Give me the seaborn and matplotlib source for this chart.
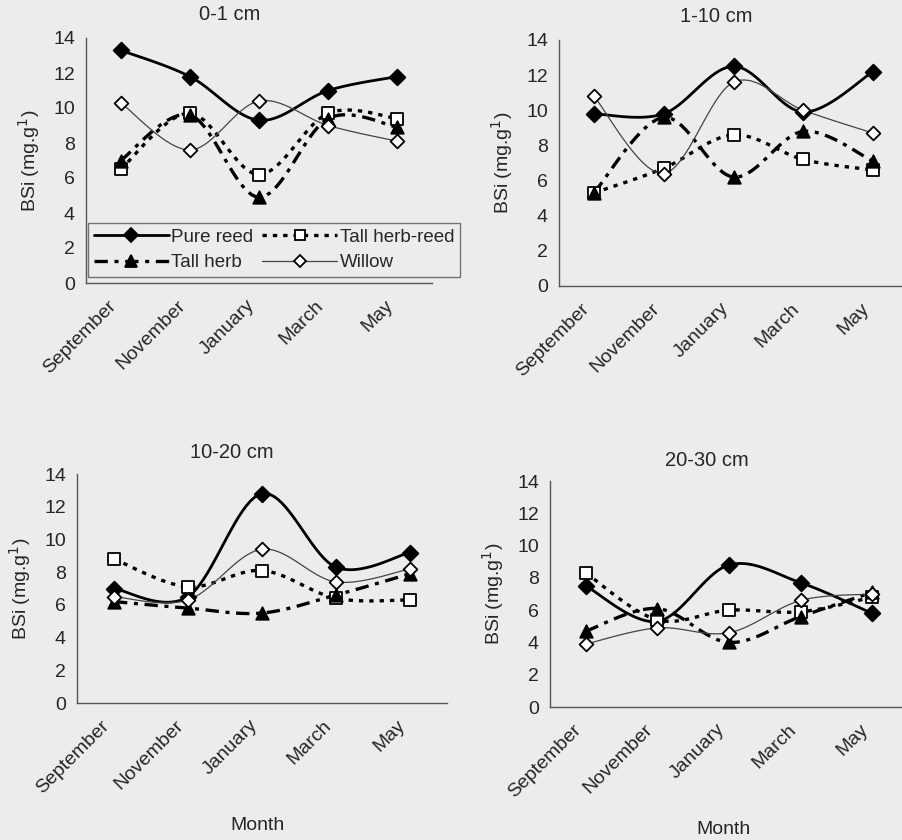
import matplotlib
matplotlib.use('Agg')
import matplotlib.pyplot as plt
import matplotlib.transforms as mtransforms
import seaborn as sns
import numpy as np
import pandas as pd

# Data (BSi, mg.g-1)
months = ['September', 'November', 'January', 'March', 'May']
depths = ['0-1 cm', '1-10 cm', '10-20 cm', '20-30 cm']
series = ['Pure reed', 'Tall herb-reed', 'Tall herb', 'Willow']

pure_reed = [[13.3, 11.8, 9.3, 11.0, 11.8],
             [9.8, 9.8, 12.5, 9.9, 12.2],
             [7.0, 6.5, 12.8, 8.3, 9.2],
             [7.5, 5.3, 8.8, 7.7, 5.8]]
tall_herb_reed = [[6.5, 9.7, 6.2, 9.7, 9.4],
                  [5.3, 6.7, 8.6, 7.2, 6.6],
                  [8.8, 7.1, 8.1, 6.4, 6.3],
                  [8.3, 5.4, 6.0, 5.9, 6.8]]
tall_herb = [[7.0, 9.6, 4.9, 9.4, 8.9],
             [5.3, 9.6, 6.2, 8.8, 7.1],
             [6.2, 5.8, 5.5, 6.6, 7.9],
             [4.7, 6.1, 4.0, 5.6, 7.1]]
willow = [[10.3, 7.6, 10.4, 9.0, 8.1],
          [10.8, 6.4, 11.6, 10.0, 8.7],
          [6.5, 6.3, 9.4, 7.4, 8.2],
          [3.9, 4.9, 4.6, 6.6, 7.0]]

values = {'Pure reed': pure_reed, 'Tall herb-reed': tall_herb_reed,
          'Tall herb': tall_herb, 'Willow': willow}

styles = {
    'Pure reed': dict(color='black', lw=2.0, ls='-', marker='D', mfc='black', ms=8),
    'Tall herb-reed': dict(color='black', lw=2.4, ls=(0, (1.3, 1.8)), marker='s', mfc='white', ms=8),
    'Tall herb': dict(color='black', lw=2.4, ls=(0, (4, 2, 1.2, 2)), marker='^', mfc='black', ms=9),
    'Willow': dict(color='#444444', lw=0.9, ls='-', marker='D', mfc='white', ms=7),
}


def smooth(x, y, n=20):
    # Excel-like smoothed line (Catmull-Rom as cubic bezier)
    x = np.asarray(x, float)
    y = np.asarray(y, float)
    px = np.concatenate([[x[0]], x, [x[-1]]])
    py = np.concatenate([[y[0]], y, [y[-1]]])
    t = np.linspace(0, 1, n)
    xs, ys = [], []
    for i in range(1, len(px) - 2):
        p0 = np.array([px[i], py[i]])
        p3 = np.array([px[i + 1], py[i + 1]])
        p1 = p0 + (np.array([px[i + 1], py[i + 1]]) - np.array([px[i - 1], py[i - 1]])) / 6
        p2 = p3 - (np.array([px[i + 2], py[i + 2]]) - np.array([px[i], py[i]])) / 6
        b = ((1 - t) ** 3)[:, None] * p0 + (3 * (1 - t) ** 2 * t)[:, None] * p1 \
            + (3 * (1 - t) * t ** 2)[:, None] * p2 + (t ** 3)[:, None] * p3
        xs.append(b[:, 0])
        ys.append(b[:, 1])
    return np.concatenate(xs), np.concatenate(ys)


sns.set_style('white')
plt.rcParams['font.family'] = ['Liberation Sans', 'DejaVu Sans']
bg = '#ececec'

W, H = 902, 840
fig = plt.figure(figsize=(W / 100, H / 100), dpi=100, facecolor=bg)

# axes boxes in pixels: left, right, top(14), bottom(0)
boxes = [(86, 432, 38, 283), (559, 908, 40, 286), (77, 447, 474, 703), (550, 908, 481, 707)]
titles_xy = [(230, 15), (716, 17), (232, 453), (707, 460)]

x = np.arange(len(months))
shift = mtransforms.ScaledTranslation(-13 / 100, -14 / 100, fig.dpi_scale_trans)
for k, (l, r, t, b) in enumerate(boxes):
    ax = fig.add_axes([l / W, 1 - b / H, (r - l) / W, (b - t) / H])
    ax.set_facecolor(bg)
    for name in series:
        st = values[name][k]
        s = styles[name]
        sx, sy = smooth(x, st)
        sns.lineplot(x=sx, y=sy, ax=ax, color=s['color'], lw=s['lw'], linestyle=s['ls'],
                     sort=False, estimator=None, legend=False)
        sns.scatterplot(x=x, y=st, ax=ax, marker=s['marker'], s=s['ms'] ** 2, color=s['mfc'],
                        edgecolor='black', linewidth=1.3, zorder=3, legend=False)
    ax.set_xlim(-0.5, len(months) - 0.5)
    ax.set_ylim(0, 14)
    ax.set_yticks(range(0, 15, 2))
    ax.set_xticks(np.arange(-0.5, len(months), 1))
    ax.set_xticklabels([])
    # month labels centred on categories, rotated like the original
    trans = mtransforms.blended_transform_factory(ax.transData, ax.transAxes) + shift
    for i, m in zip(x, months):
        ax.text(i, 0, m, transform=trans, rotation=45, ha='right', va='top',
                rotation_mode='anchor', fontsize=14, clip_on=False)
    ax.tick_params(axis='x', which='major', direction='in', length=5, color='#555555', width=1)
    ax.tick_params(axis='y', direction='out', length=5, color='#555555', width=1, labelsize=14, pad=3)
    for sp in ['top', 'right']:
        ax.spines[sp].set_visible(False)
    for sp in ['left', 'bottom']:
        ax.spines[sp].set_color('#555555')
        ax.spines[sp].set_linewidth(1)
    ax.set_ylabel('BSi (mg.g$^{1}$)', fontsize=14, labelpad=8)
    tx, ty = titles_xy[k]
    fig.text(tx / W, 1 - ty / H, depths[k], ha='center', va='center', fontsize=14.5)
    if k == 0:
        handles = []
        order = ['Pure reed', 'Tall herb', 'Tall herb-reed', 'Willow']
        for name in order:
            s = styles[name]
            h, = ax.plot([], [], color=s['color'], lw=s['lw'], ls=s['ls'], marker=s['marker'],
                         mfc=s['mfc'], mec='black', ms=s['ms'] * 0.9, mew=1.3)
            handles.append(h)
        leg = ax.legend(handles, order, ncol=2, loc='lower left',
                        bbox_to_anchor=((88 - l) / (r - l), (b - 277) / (b - t), (460 - 88) / (r - l), (277 - 220) / (b - t)),
                        mode='expand', fontsize=13.5, handlelength=4.0, frameon=True, fancybox=False,
                        borderaxespad=0, columnspacing=1.6, handletextpad=0.15, borderpad=0.3,
                        labelspacing=0.45)
        leg.get_frame().set_edgecolor('#555555')
        leg.get_frame().set_facecolor(bg)
        leg.get_frame().set_linewidth(1)

fig.text(258 / W, 1 - 826 / H, 'Month', ha='center', va='center', fontsize=14)
fig.text(724 / W, 1 - 830 / H, 'Month', ha='center', va='center', fontsize=14)

fig.savefig('out.png', dpi=100, facecolor=bg)
